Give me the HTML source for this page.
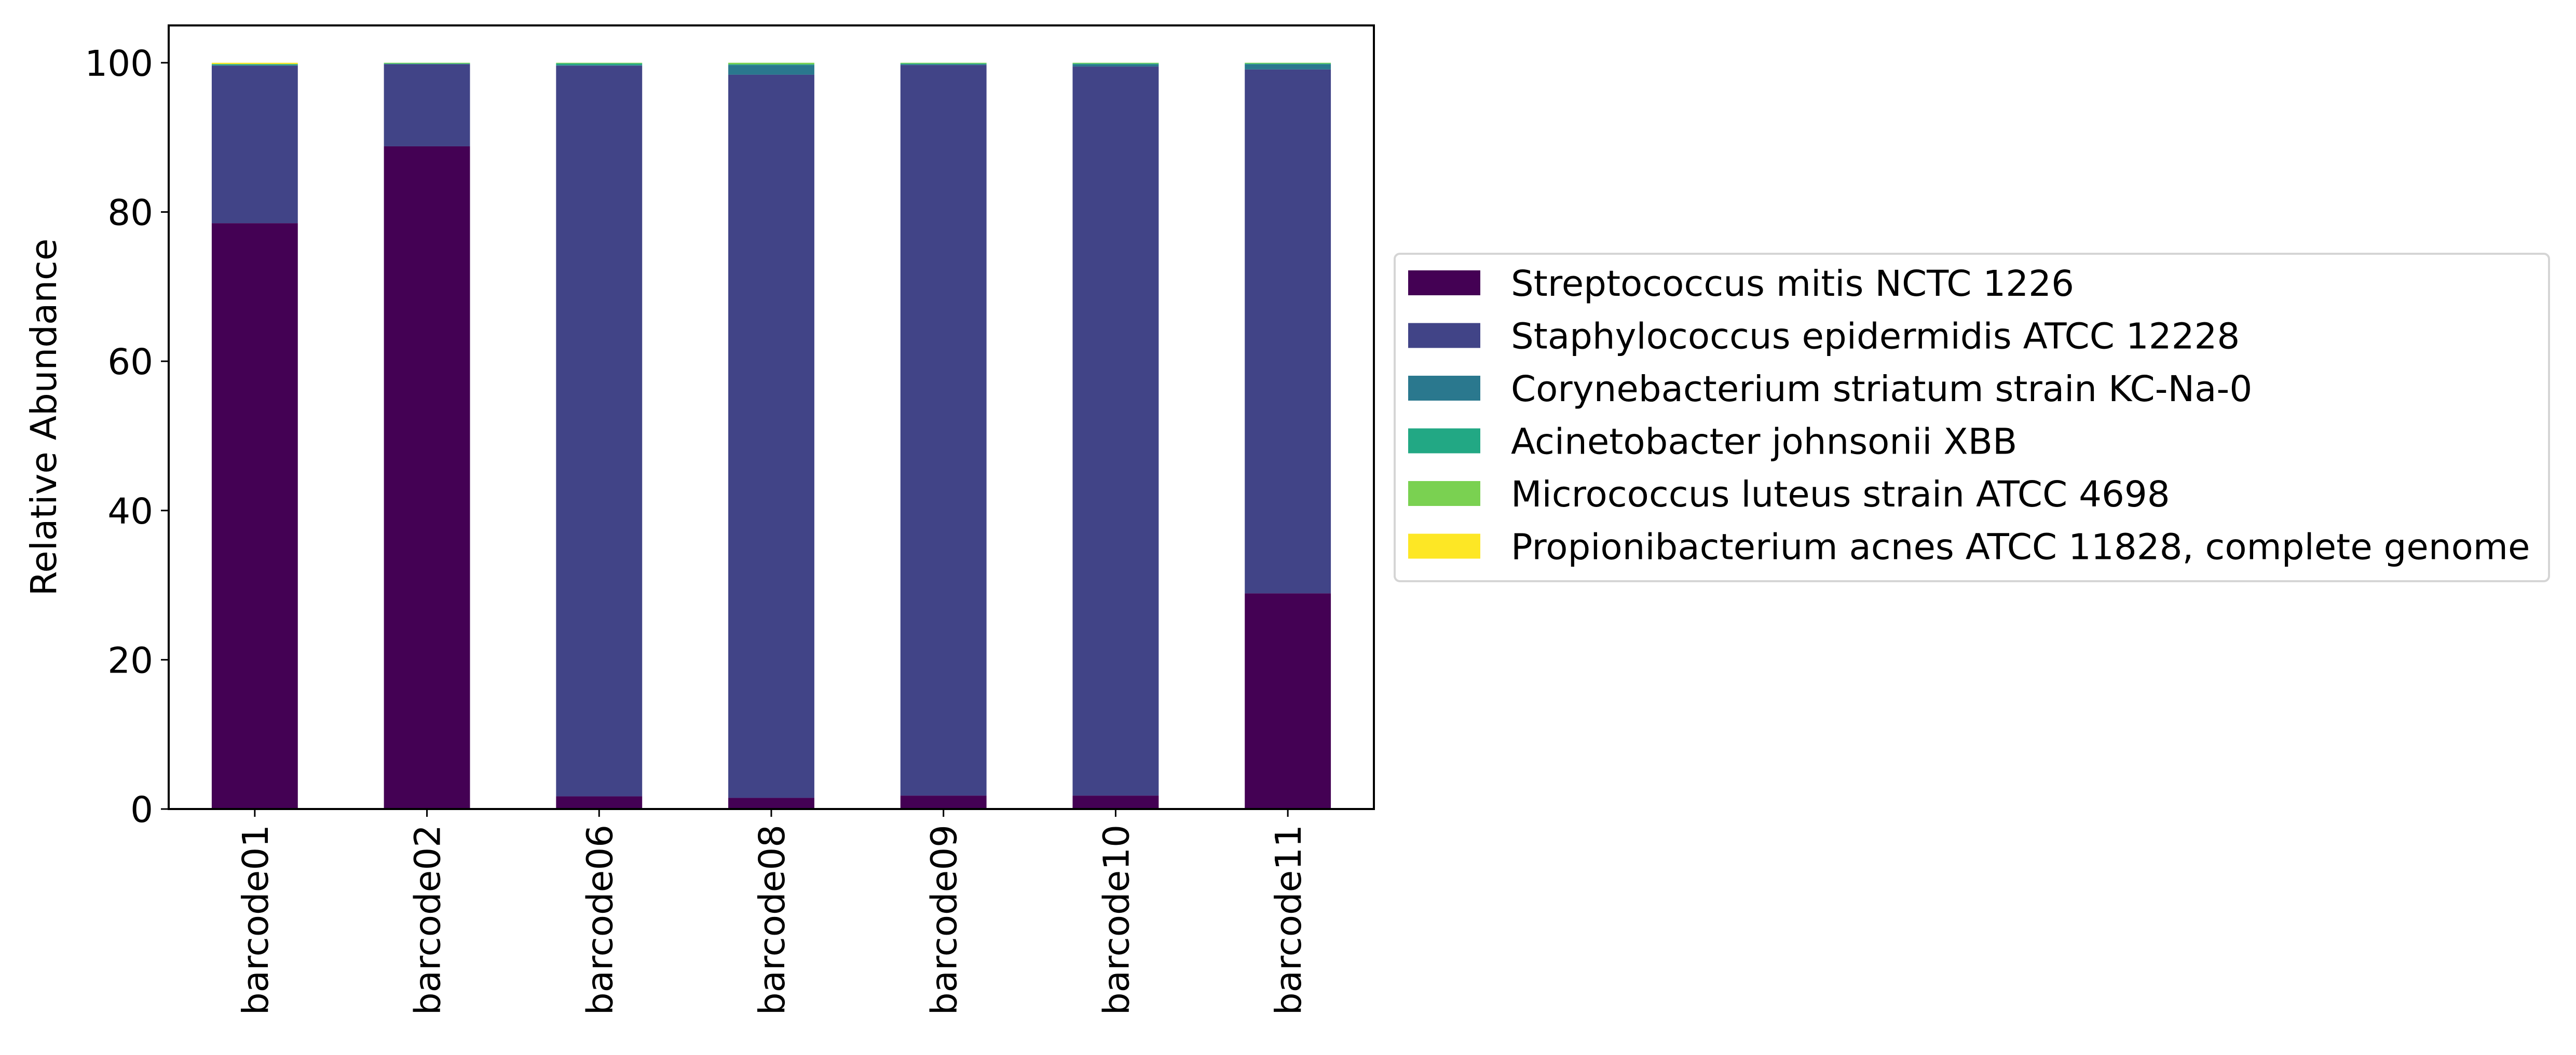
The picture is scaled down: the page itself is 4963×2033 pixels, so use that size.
<!DOCTYPE html>
<html><head><meta charset="utf-8"><style>
html,body{margin:0;padding:0;background:#fff}
svg text{font-family:"DejaVu Sans","Liberation Sans",sans-serif;font-size:69px;fill:#000}
</style></head><body>
<svg id="chart" xmlns="http://www.w3.org/2000/svg" width="4963" height="2028" viewBox="0 0 4963 2028">
<rect width="4963" height="2028" fill="#fff"/>
<g id="bars"></g>
<g id="yaxis"></g>
<g id="xaxis"></g>
<rect x="325" y="49" width="2322" height="1510" fill="none" stroke="#000" stroke-width="4"/>
<text transform="translate(108,804) rotate(-90)" text-anchor="middle">Relative Abundance</text>
<g id="legend">
<rect x="2687" y="489" width="2224" height="631" rx="10" fill="#fff" stroke="#d5d5d5" stroke-width="4"/>
</g>
</svg>
<script>
const categories = ["barcode01","barcode02","barcode06","barcode08","barcode09","barcode10","barcode11"];
const seriesNames = ["Streptococcus mitis NCTC 1226","Staphylococcus epidermidis ATCC 12228","Corynebacterium striatum strain KC-Na-0","Acinetobacter johnsonii XBB","Micrococcus luteus strain ATCC 4698","Propionibacterium acnes ATCC 11828, complete genome"];
const strep = [78.5, 88.8, 1.7, 1.5, 1.8, 1.8, 28.9];
const staph = [21.1, 11.0, 97.9, 96.9, 97.9, 97.7, 70.2];
const coryne = [0.1, 0.05, 0.1, 1.3, 0.1, 0.3, 0.7];
const acin = [0.1, 0.05, 0.2, 0.1, 0.1, 0.1, 0.1];
const micro = [0.05, 0.1, 0.1, 0.2, 0.1, 0.1, 0.1];
const prop = [0.15, 0, 0, 0, 0, 0, 0];
const yTicks = [0, 20, 40, 60, 80, 100];
const colors = ["#440154","#414487","#2a788e","#22a884","#7ad151","#fde725"];
const series = [strep, staph, coryne, acin, micro, prop];

const NS = "http://www.w3.org/2000/svg";
const L = 325, R = 2647, T = 49, B = 1559;
const yMax = 105;
const y = v => B - v / yMax * (B - T);
const unit = (R - L) / categories.length;
const x = i => L + unit * (i + 0.5);
const bw = unit * 0.5;
function mk(tag, attrs, parent) { const e = document.createElementNS(NS, tag); for (const k in attrs) e.setAttribute(k, attrs[k]); parent.appendChild(e); return e; }

const gb = document.getElementById("bars");
categories.forEach((c, i) => {
  let acc = 0;
  series.forEach((s, j) => {
    const v = s[i];
    if (v <= 0) { return; }
    const r = mk("rect", { x: x(i) - bw / 2, y: y(acc + v), width: bw, height: y(acc) - y(acc + v), fill: colors[j] }, gb);
    
    
    acc += v;
  });
});

const gy = document.getElementById("yaxis");
yTicks.forEach(t => {
  const ln = mk("line", { x1: L - 15, x2: L, y1: y(t), y2: y(t), stroke: "#000", "stroke-width": 3 }, gy);
  
  
  const tx = mk("text", { x: L - 30, y: y(t) + 25, "text-anchor": "end" }, gy);
  tx.textContent = t;
  
  
});

const gx = document.getElementById("xaxis");
categories.forEach((c, i) => {
  const ln = mk("line", { x1: x(i), x2: x(i), y1: B, y2: B + 15, stroke: "#000", "stroke-width": 3 }, gx);
  
  
  const tx = mk("text", { transform: `translate(${x(i) + 25},${B + 30}) rotate(-90)`, "text-anchor": "end" }, gx);
  tx.textContent = c;
  
  
});

const gl = document.getElementById("legend");
seriesNames.forEach((n, j) => {
  const yy = 521 + j * 101.5;
  const r = mk("rect", { x: 2713, y: yy, width: 139, height: 48, fill: colors[j] }, gl);
  
  
  const tx = mk("text", { x: 2911, y: yy + 49 }, gl);
  tx.textContent = n;
  
  
});
</script>
</body></html>
